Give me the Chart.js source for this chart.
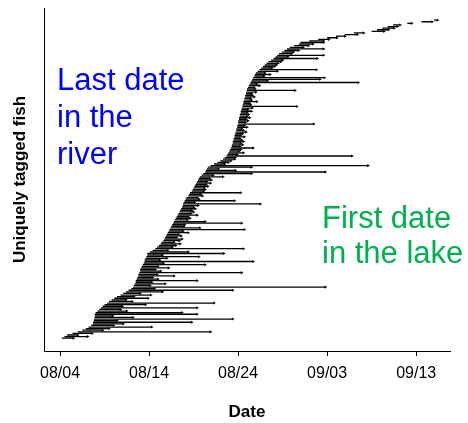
<!DOCTYPE html>
<html>
<head>
<meta charset="utf-8">
<script src="https://cdn.jsdelivr.net/npm/chart.js@4.4.1/dist/chart.umd.min.js"></script>
<style>
  html, body { margin: 0; padding: 0; background: #fff; }
</style>
</head>
<body>
<canvas id="fishChart" width="468" height="423"></canvas>
<script>
// Each fish: last detection in the river -> first detection in the lake (days after 08/04)
var lastRiver = [
  0.2, 0.5, 0.8, 1.4, 2.0, 2.5, 2.9, 3.2, 3.5, 3.7,
  3.7, 3.8, 3.8, 3.9, 3.9, 3.9, 4.0, 4.2, 4.4, 4.6,
  4.8, 5.0, 5.3, 5.5, 5.8, 6.1, 6.4, 6.8, 7.1, 7.4,
  7.7, 8.0, 8.2, 8.3, 8.4, 8.5, 8.5, 8.6, 8.7, 8.8,
  8.8, 8.9, 9.0, 9.0, 9.1, 9.2, 9.3, 9.4, 9.5, 9.5,
  9.6, 9.7, 9.8, 9.8, 10.1, 10.4, 10.7, 10.9, 11.1, 11.3,
  11.4, 11.6, 11.7, 11.8, 11.9, 12.0, 12.1, 12.2, 12.3, 12.4,
  12.5, 12.6, 12.7, 12.8, 12.9, 13.0, 13.1, 13.2, 13.3, 13.4,
  13.5, 13.6, 13.7, 13.8, 13.8, 13.9, 14.0, 14.1, 14.2, 14.4,
  14.5, 14.6, 14.8, 14.9, 15.0, 15.1, 15.2, 15.3, 15.4, 15.5,
  15.6, 15.7, 15.9, 16.1, 16.3, 16.4, 16.5, 16.6, 16.9, 17.3,
  17.7, 18.0, 18.3, 18.5, 18.7, 18.8, 18.9, 19.0, 19.1, 19.2,
  19.3, 19.3, 19.4, 19.4, 19.5, 19.5, 19.6, 19.6, 19.7, 19.7,
  19.8, 19.8, 19.9, 19.9, 20.0, 20.0, 20.0, 20.1, 20.1, 20.2,
  20.2, 20.3, 20.3, 20.4, 20.4, 20.5, 20.5, 20.6, 20.6, 20.7,
  20.7, 20.8, 20.8, 20.9, 20.9, 21.0, 21.0, 21.1, 21.2, 21.3,
  21.4, 21.5, 21.6, 21.7, 21.8, 21.9, 22.0, 22.2, 22.4, 22.6,
  22.8, 23.0, 23.2, 23.4, 23.7, 24.0, 24.2, 24.4, 24.6, 24.9,
  25.2, 25.5, 25.8, 26.3, 26.8, 27.0, 28.0, 29.0, 30.0, 31.0,
  32.0, 33.0, 35.0, 35.6, 36.2, 36.8, 37.4, 39.0, 40.6, 42.0
];

var firstLake = [
  1.5, 3.1, 2.0, 3.6, 16.9, 4.8, 5.5, 10.3, 6.0, 7.1,
  14.8, 6.4, 19.4, 8.2, 5.9, 15.4, 13.7, 7.5, 6.8, 15.4,
  7.0, 9.6, 17.3, 8.1, 7.4, 9.9, 8.3, 10.2, 9.0, 11.5,
  19.4, 10.6, 29.8, 10.1, 11.8, 10.3, 15.4, 11.0, 10.4, 12.8,
  10.9, 20.4, 11.3, 10.7, 12.2, 11.0, 16.3, 11.6, 21.7, 11.2,
  12.0, 15.6, 11.5, 18.4, 14.4, 12.1, 20.6, 12.6, 13.0, 13.5,
  12.8, 13.4, 13.7, 13.1, 13.6, 13.3, 14.4, 13.8, 20.7, 15.7,
  13.9, 14.0, 20.4, 16.3, 14.3, 14.6, 14.4, 15.4, 14.7, 15.0,
  14.8, 15.2, 15.0, 15.5, 22.5, 15.1, 19.6, 15.6, 15.4, 16.0,
  15.8, 20.3, 16.1, 16.3, 16.2, 16.6, 16.4, 16.9, 16.5, 17.0,
  16.8, 18.3, 17.2, 21.5, 29.8, 19.7, 17.8, 21.5, 34.6, 18.5,
  18.9, 19.2, 19.6, 19.7, 32.8, 19.9, 20.6, 20.1, 20.3, 21.7,
  20.2, 20.5, 20.3, 20.6, 20.4, 20.2, 20.7, 20.3, 20.5, 20.9,
  20.6, 20.4, 21.0, 20.7, 28.5, 20.8, 21.1, 20.9, 21.3, 21.0,
  21.2, 21.0, 21.5, 21.1, 21.6, 26.6, 21.4, 21.3, 22.1, 21.5,
  21.4, 21.8, 21.6, 21.5, 22.0, 26.4, 21.9, 21.8, 22.4, 22.1,
  33.5, 23.3, 29.2, 29.7, 22.9, 23.6, 23.0, 24.4, 28.8, 23.8,
  24.1, 24.3, 24.5, 24.8, 25.0, 28.9, 25.6, 29.6, 26.0, 26.2,
  26.8, 29.6, 27.3, 27.9, 28.4, 29.6, 29.6, 30.2, 31.1, 32.0,
  33.4, 34.1, 36.4, 36.9, 37.5, 37.9, 38.2, 39.5, 41.8, 42.4
];

var tickDays = [0, 10, 20, 30, 40];
var tickLabels = ['08/04', '08/14', '08/24', '09/03', '09/13'];

var riverNote = ['Last date', 'in the', 'river'];
var lakeNote = ['First date', 'in the lake'];

var FONT = '"Liberation Sans", Arial, sans-serif';

// one polyline broken by null points, plus arrow heads at the lake end
var segPoints = [];
var endPoints = [];
lastRiver.forEach(function(start, i) {
  var row = i + 1;
  segPoints.push({ x: start, y: row });
  segPoints.push({ x: firstLake[i], y: row });
  segPoints.push({ x: firstLake[i], y: null });
  endPoints.push({ x: firstLake[i], y: row });
});

var notePlugin = {
  id: 'notes',
  afterDraw: function(chart) {
    var ctx = chart.ctx;
    ctx.save();
    ctx.font = '31px ' + FONT;
    ctx.textBaseline = 'alphabetic';
    ctx.fillStyle = '#0000ff';
    riverNote.forEach(function(line, k) { ctx.fillText(line, 57, 90 + k * 37); });
    ctx.fillStyle = '#00b050';
    lakeNote.forEach(function(line, k) { ctx.fillText(line, 322, 228 + k * 35); });
    ctx.restore();
  }
};

new Chart(document.getElementById('fishChart').getContext('2d'), {
  type: 'scatter',
  data: {
    datasets: [
      {
        data: segPoints,
        showLine: true,
        spanGaps: false,
        borderColor: '#000',
        borderWidth: 1.3,
        pointRadius: 0,
        order: 2
      },
      {
        data: endPoints,
        pointStyle: 'triangle',
        rotation: 90,
        pointRadius: 1.8,
        backgroundColor: '#000',
        borderColor: '#000',
        borderWidth: 0,
        order: 1
      }
    ]
  },
  options: {
    responsive: false,
    animation: false,
    layout: { padding: { top: 8, right: 18, left: 0, bottom: 0 } },
    plugins: {
      legend: { display: false },
      tooltip: { enabled: false }
    },
    scales: {
      x: {
        type: 'linear',
        position: 'bottom',
        min: -1.8,
        max: 43.8,
        afterBuildTicks: function(scale) {
          scale.ticks = tickDays.map(function(v) { return { value: v }; });
        },
        afterFit: function(scale) { scale.height = 72; },
        ticks: {
          padding: 8,
          color: '#000',
          font: { family: FONT, size: 16 },
          callback: function(val) {
            var k = tickDays.indexOf(val);
            return k >= 0 ? tickLabels[k] : '';
          }
        },
        grid: { display: true, drawOnChartArea: false, drawTicks: true, tickLength: 5, color: '#000' },
        border: { display: true, color: '#000', width: 1 },
        title: {
          display: true,
          text: 'Date',
          color: '#000',
          font: { family: FONT, size: 17, weight: 'bold' },
          padding: { top: 0, bottom: 0 }
        }
      },
      y: {
        type: 'linear',
        min: -7,
        max: 207.6,
        afterFit: function(scale) { scale.width = 44; },
        ticks: { display: false },
        grid: { display: false },
        border: { display: true, color: '#000', width: 1 },
        title: {
          display: true,
          text: 'Uniquely tagged fish',
          color: '#000',
          font: { family: FONT, size: 17, weight: 'bold' },
          padding: { top: 10, bottom: 0 }
        }
      }
    }
  },
  plugins: [notePlugin]
});
</script>
</body>
</html>
